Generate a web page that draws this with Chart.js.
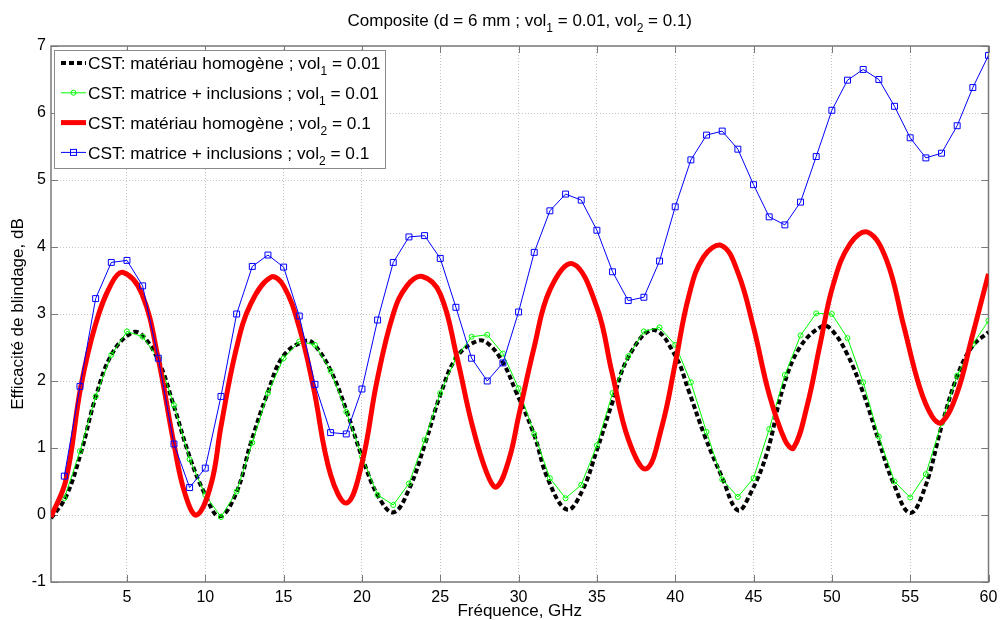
<!DOCTYPE html>
<html>
<head>
<meta charset="utf-8">
<script src="https://cdn.jsdelivr.net/npm/chart.js@4.4.1/dist/chart.umd.min.js"></script>
<style>
  html, body { margin: 0; padding: 0; background: #fff; }
</style>
</head>
<body>
<canvas id="chart" width="1000" height="620"></canvas>
<script>
const FONT = "'Liberation Sans', Arial, sans-serif";

// axis ticks
const xTicks = [5, 10, 15, 20, 25, 30, 35, 40, 45, 50, 55, 60];
const yTicks = [-1, 0, 1, 2, 3, 4, 5, 6, 7];

// CST: matériau homogène ; vol1 = 0.01 (smooth curve)
const homog1X = [0.15, 1.1, 2.05, 3, 4.05, 5.3, 5.95, 7, 7.95, 9, 9.96, 10.9, 11.96, 12.9, 13.96, 15,
  16.4, 16.9, 18, 19.04, 20, 21.06, 22.02, 22.98, 24.04, 25, 26.06, 27.4, 28.1, 29.04, 29.8, 30.96,
  31.9, 33.1, 34.04, 35, 35.96, 37.02, 38.6, 40, 40.85, 41.9, 42.98, 44, 44.8, 45.85, 46.9, 47.98,
  49.4, 50, 50.96, 52.02, 52.98, 53.94, 55, 55.96, 57, 57.98, 58.94, 60];
const homog1Y = [-0.05, 0.27, 0.92, 1.76, 2.41, 2.72, 2.69, 2.31, 1.66, 0.87, 0.32, -0.02, 0.32, 1.07, 1.81, 2.38,
  2.6, 2.56, 2.16, 1.54, 0.87, 0.27, 0.04, 0.37, 1.07, 1.79, 2.36, 2.6, 2.55, 2.26, 1.86, 1.22,
  0.52, 0.08, 0.35, 0.97, 1.66, 2.36, 2.76, 2.38, 1.86, 1.17, 0.57, 0.07, 0.32, 0.92, 1.91, 2.51,
  2.82, 2.76, 2.41, 1.81, 1.12, 0.47, 0.03, 0.42, 1.32, 2.06, 2.51, 2.73];

// CST: matériau homogène ; vol2 = 0.1
const homog2X = [0.15, 1.1, 2.05, 3, 4, 4.75, 5.95, 7, 7.95, 8.7, 9.45, 10.38, 11, 11.96, 12.9, 14.2,
  15, 16, 16.9, 18, 19.04, 20, 20.96, 22, 22.87, 23.85, 25, 26.06, 27.02, 27.98, 28.6, 29.4,
  30, 31, 32, 33.45, 35, 35.96, 37.02, 38.15, 39.15, 40, 40.85, 41.8, 42.98, 44, 45, 46,
  47, 47.55, 48.4, 49.26, 50.1, 51.17, 52.3, 53.5, 54.6, 55.6, 56.4, 57, 57.98, 58.9, 60];
const homog2Y = [-0.03, 0.52, 1.91, 2.85, 3.45, 3.62, 3.3, 2.33, 1.12, 0.32, 0.0, 0.47, 1.32, 2.46, 3.15, 3.55,
  3.42, 2.8, 1.91, 0.6, 0.18, 0.77, 2.0, 3.0, 3.42, 3.56, 3.3, 2.36, 1.36, 0.62, 0.42, 0.84,
  1.47, 2.51, 3.36, 3.75, 3.1, 2.13, 1.12, 0.69, 1.32, 2.26, 3.25, 3.85, 4.02, 3.62, 2.8, 1.8,
  1.12, 1.0, 1.61, 2.56, 3.45, 4.05, 4.22, 3.8, 2.81, 1.91, 1.47, 1.38, 1.81, 2.61, 3.6];

// CST: matrice + inclusions, one sample per GHz
const freq = [1, 2, 3, 4, 5, 6, 7, 8, 9, 10, 11, 12, 13, 14, 15, 16, 17, 18, 19, 20,
  21, 22, 23, 24, 25, 26, 27, 28, 29, 30, 31, 32, 33, 34, 35, 36, 37, 38, 39, 40,
  41, 42, 43, 44, 45, 46, 47, 48, 49, 50, 51, 52, 53, 54, 55, 56, 57, 58, 59, 60];
const incl1 = [0.25, 0.95, 1.77, 2.39, 2.74, 2.66, 2.34, 1.64, 0.83, 0.3, -0.03, 0.35, 1.08, 1.82, 2.34, 2.59, 2.54, 2.15, 1.54, 0.87,
  0.3, 0.15, 0.47, 1.12, 1.82, 2.34, 2.66, 2.69, 2.41, 1.89, 1.21, 0.55, 0.25, 0.45, 1.04, 1.82, 2.37, 2.74, 2.8, 2.54,
  1.98, 1.24, 0.53, 0.27, 0.55, 1.28, 2.09, 2.68, 3.01, 3.0, 2.64, 1.98, 1.17, 0.5, 0.26, 0.61, 1.37, 2.08, 2.55, 2.9];
const incl2 = [0.58, 1.92, 3.23, 3.77, 3.8, 3.42, 2.34, 1.06, 0.41, 0.7, 1.77, 3.0, 3.71, 3.88, 3.7, 2.97, 1.95, 1.23, 1.21, 1.88,
  2.91, 3.77, 4.15, 4.17, 3.83, 3.1, 2.34, 2.0, 2.27, 3.03, 3.92, 4.54, 4.79, 4.7, 4.25, 3.63, 3.2, 3.25, 3.79, 4.6,
  5.3, 5.67, 5.73, 5.46, 4.93, 4.45, 4.33, 4.67, 5.35, 6.04, 6.49, 6.65, 6.5, 6.1, 5.63, 5.33, 5.4, 5.81, 6.38, 6.86];

// legend entries, [text, isSubscript]
const legendLabels = [
  [["CST: matériau homogène ; vol"], ["1", 1], [" = 0.01"]],
  [["CST: matrice + inclusions ; vol"], ["1", 1], [" = 0.01"]],
  [["CST: matériau homogène ; vol"], ["2", 1], [" = 0.1"]],
  [["CST: matrice + inclusions ; vol"], ["2", 1], [" = 0.1"]],
];
const titleParts = [["Composite (d = 6 mm ; vol"], ["1", 1], [" = 0.01, vol"], ["2", 1], [" = 0.1)"]];

const pairs = (xs, ys) => xs.map((x, i) => ({ x: x, y: ys[i] }));

function richText(ctx, parts, x, y, size, align) {
  const subSize = Math.round(size * 0.72);
  let w = 0;
  parts.forEach(p => {
    ctx.font = (p[1] ? subSize : size) + "px " + FONT;
    w += ctx.measureText(p[0]).width;
  });
  let cx = align === "center" ? x - w / 2 : x;
  parts.forEach(p => {
    ctx.font = (p[1] ? subSize : size) + "px " + FONT;
    ctx.fillText(p[0], cx, p[1] ? y + size * 0.36 : y);
    cx += ctx.measureText(p[0]).width;
  });
}

// box, inner ticks, title and legend
const decorations = {
  id: "decorations",
  beforeDatasetsDraw(chart) {
    const { ctx, chartArea: a, scales: { x, y } } = chart;
    ctx.save();
    ctx.strokeStyle = "#7a7a7a";
    ctx.lineWidth = 1;
    ctx.beginPath();
    xTicks.forEach(v => {
      const px = Math.round(x.getPixelForValue(v)) + 0.5;
      ctx.moveTo(px, a.bottom); ctx.lineTo(px, a.bottom - 7);
      ctx.moveTo(px, a.top); ctx.lineTo(px, a.top + 7);
    });
    yTicks.forEach(v => {
      const py = Math.round(y.getPixelForValue(v)) + 0.5;
      ctx.moveTo(a.left, py); ctx.lineTo(a.left + 7, py);
      ctx.moveTo(a.right, py); ctx.lineTo(a.right - 7, py);
    });
    ctx.stroke();
    ctx.lineWidth = 1.5;
    ctx.strokeRect(a.left, a.top, a.right - a.left, a.bottom - a.top);
    ctx.restore();
  },
  afterDatasetsDraw(chart) {
    const { ctx, chartArea: a } = chart;
    ctx.save();
    ctx.fillStyle = "#000";
    ctx.textBaseline = "alphabetic";
    richText(ctx, titleParts, (a.left + a.right) / 2, 26, 17, "center");

    // legend box
    ctx.fillStyle = "#fff";
    ctx.fillRect(54.5, 50.5, 331, 118);
    ctx.strokeStyle = "#8a8a8a";
    ctx.lineWidth = 1;
    ctx.strokeRect(54.5, 50.5, 331, 118);
    const ds = chart.data.datasets;
    legendLabels.forEach((parts, i) => {
      const yc = 63 + i * 29.8;
      const d = ds[i];
      ctx.save();
      ctx.strokeStyle = d.borderColor;
      ctx.lineWidth = d.borderWidth;
      ctx.setLineDash(d.borderDash || []);
      ctx.beginPath();
      ctx.moveTo(61, yc); ctx.lineTo(86, yc);
      ctx.stroke();
      ctx.setLineDash([]);
      ctx.lineWidth = 1;
      if (d.pointStyle === "circle") {
        ctx.beginPath(); ctx.arc(73.5, yc, 2.5, 0, Math.PI * 2); ctx.stroke();
      } else if (d.pointStyle === "rect") {
        ctx.strokeRect(70.5, yc - 3, 6, 6);
      }
      ctx.restore();
      ctx.fillStyle = "#000";
      richText(ctx, parts, 88, yc + 6.2, 17.3, "left");
    });
    ctx.restore();
  }
};

new Chart(document.getElementById("chart"), {
  type: "line",
  data: {
    datasets: [
      {
        data: pairs(homog1X, homog1Y),
        borderColor: "#000000", borderWidth: 4, borderDash: [5, 3], borderCapStyle: "butt",
        pointRadius: 0, tension: 0.4, order: 4
      },
      {
        data: pairs(freq, incl1),
        borderColor: "#00ff00", borderWidth: 1, tension: 0,
        pointStyle: "circle", pointRadius: 2.5, pointBorderWidth: 1,
        pointBorderColor: "#00ff00", pointBackgroundColor: "rgba(0,0,0,0)", order: 3
      },
      {
        data: pairs(homog2X, homog2Y),
        borderColor: "#ff0000", borderWidth: 5,
        pointRadius: 0, tension: 0.4, order: 2
      },
      {
        data: pairs(freq, incl2),
        borderColor: "#0000ff", borderWidth: 1, tension: 0,
        pointStyle: "rect", pointRadius: 4.2, pointBorderWidth: 1,
        pointBorderColor: "#0000ff", pointBackgroundColor: "rgba(0,0,0,0)", order: 1
      }
    ]
  },
  options: {
    responsive: false,
    animation: false,
    events: [],
    layout: { padding: { left: 0, right: 11.5, top: 46, bottom: 0 } },
    plugins: { legend: { display: false }, tooltip: { enabled: false } },
    scales: {
      x: {
        type: "linear", min: 0.15, max: 60,
        afterBuildTicks: s => { s.ticks = xTicks.map(v => ({ value: v })); },
        afterFit: s => { s.height = 38; s.paddingLeft = 0; s.paddingRight = 0; },
        grid: { color: "#c4c4c4", lineWidth: 1, drawTicks: false },
        border: { display: false, dash: [1, 2] },
        ticks: { color: "#000", font: { family: FONT, size: 16 }, padding: 6, maxRotation: 0, autoSkip: false },
        title: { display: true, text: "Fréquence, GHz", color: "#000", font: { family: FONT, size: 17 }, padding: { top: 0, bottom: -2 } }
      },
      y: {
        min: -1, max: 7,
        afterBuildTicks: s => { s.ticks = yTicks.map(v => ({ value: v })); },
        afterFit: s => { s.width = 51; s.paddingTop = 0; s.paddingBottom = 0; },
        grid: { color: "#c4c4c4", lineWidth: 1, drawTicks: false },
        border: { display: false, dash: [1, 2] },
        ticks: { color: "#000", font: { family: FONT, size: 16 }, padding: 5, autoSkip: false },
        title: { display: true, text: "Efficacité de blindage, dB", color: "#000", font: { family: FONT, size: 17 }, padding: { top: 8, bottom: 0 } }
      }
    }
  },
  plugins: [decorations]
});
</script>
</body>
</html>
